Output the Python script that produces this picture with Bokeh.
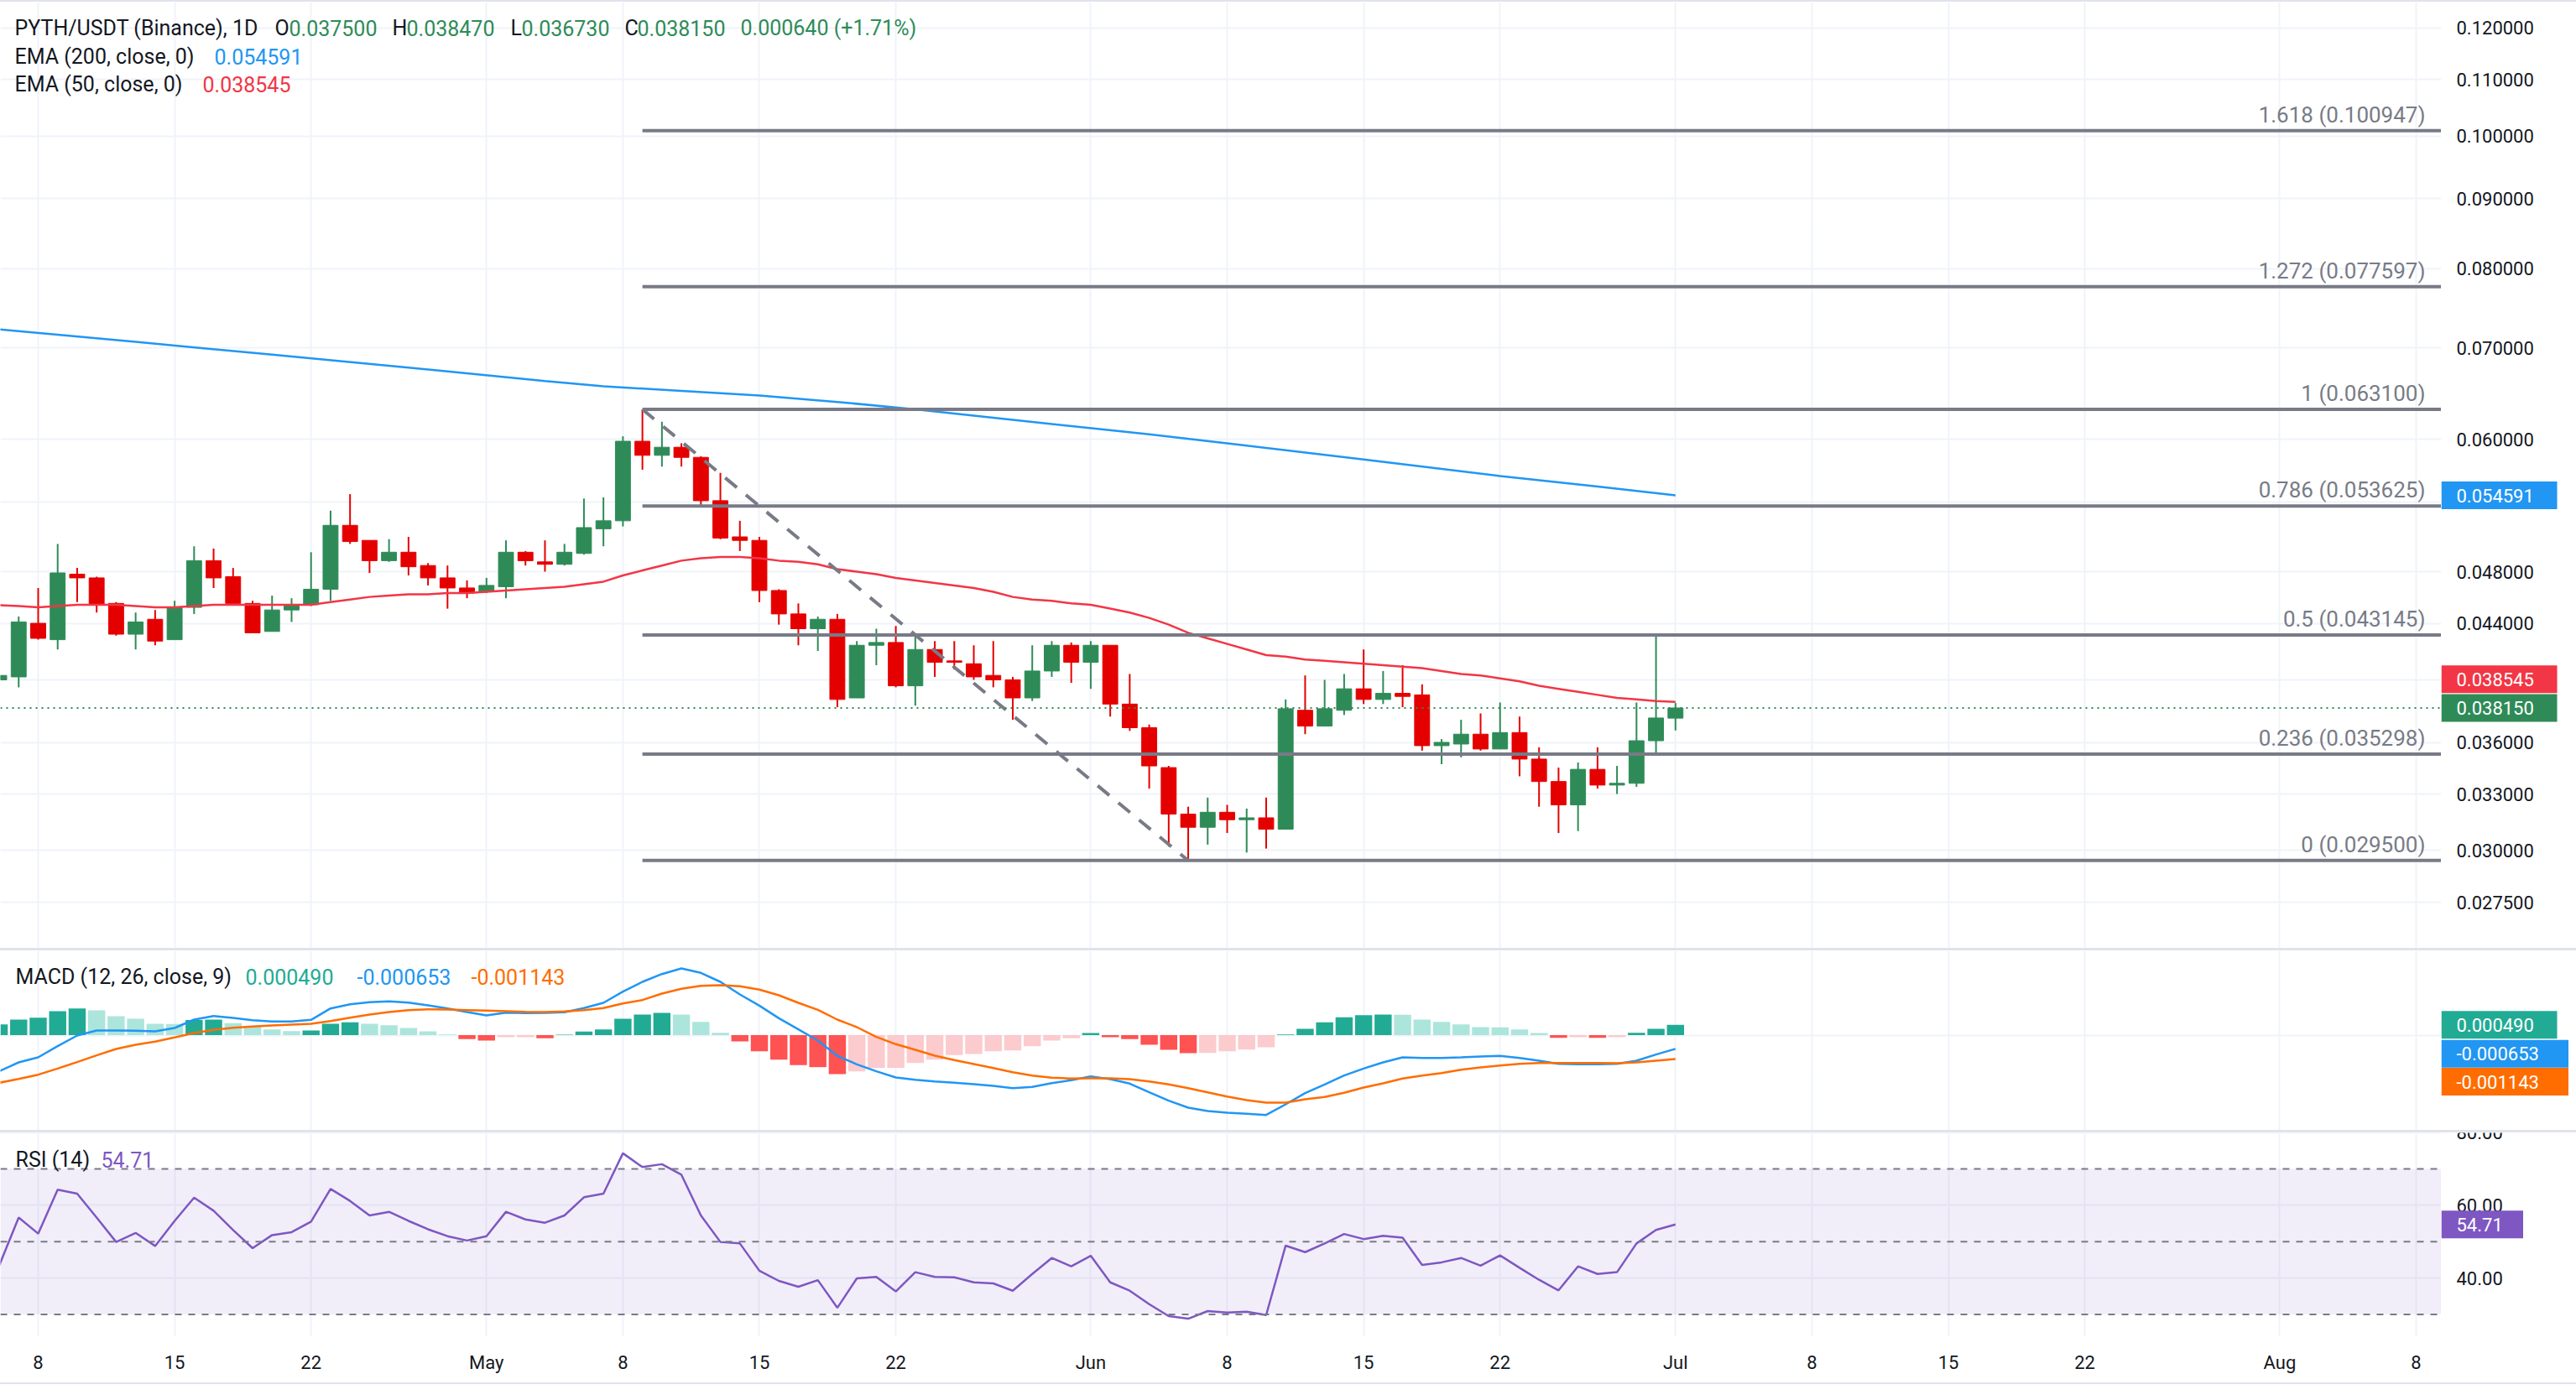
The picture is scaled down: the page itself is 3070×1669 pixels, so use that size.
import math
import pandas as pd
from bokeh.plotting import figure
from bokeh.models import Range1d, FixedTicker, Span, BoxAnnotation, Label, Div, Grid
from bokeh.layouts import column, row
from bokeh.embed import file_html
from bokeh.resources import INLINE
from bokeh.core.properties import value

# ---------------- data ----------------
start_date = "2025-04-06"
origin_date = "2025-04-08"

opens = [0.0400, 0.0402, 0.0440, 0.0428, 0.0478, 0.0475, 0.0455, 0.0432, 0.0443, 0.0428,
         0.0452, 0.0489, 0.0476, 0.0455, 0.0434, 0.0450, 0.0454, 0.0466, 0.0519, 0.0506,
         0.0489, 0.0496, 0.0485, 0.0475, 0.0467, 0.0464, 0.0468, 0.0496, 0.0488, 0.0486,
         0.0495, 0.0516, 0.0523, 0.0598, 0.0584, 0.0592, 0.0582, 0.0541, 0.0509, 0.0506,
         0.0465, 0.0447, 0.0436, 0.0443, 0.0388, 0.0424, 0.0426, 0.0396, 0.0421, 0.0413,
         0.0411, 0.0403, 0.0400, 0.0388, 0.0406, 0.0424, 0.0412, 0.0424, 0.0384, 0.0369,
         0.0345, 0.0319, 0.0312, 0.0320, 0.0316, 0.0317, 0.0311, 0.0380, 0.0370, 0.0380,
         0.0394, 0.0387, 0.0391, 0.0390, 0.0358, 0.0359, 0.0365, 0.0356, 0.0366, 0.0350,
         0.0337, 0.0324, 0.0344, 0.0335, 0.0336, 0.0361, 0.037500]
highs = [0.0404, 0.0445, 0.0467, 0.0503, 0.0483, 0.0476, 0.0456, 0.0448, 0.0450, 0.0457,
         0.0501, 0.0499, 0.0483, 0.0457, 0.0461, 0.0459, 0.0496, 0.0532, 0.0547, 0.0506,
         0.0507, 0.0509, 0.0487, 0.0485, 0.0473, 0.0475, 0.0506, 0.0497, 0.0506, 0.0503,
         0.0543, 0.0544, 0.0603, 0.0631, 0.0618, 0.0596, 0.0583, 0.0567, 0.0523, 0.0509,
         0.0466, 0.0455, 0.0445, 0.0447, 0.0427, 0.0436, 0.0438, 0.0432, 0.0427, 0.0427,
         0.0424, 0.0427, 0.0402, 0.0424, 0.0427, 0.0426, 0.0427, 0.0424, 0.0404, 0.0371,
         0.0346, 0.0323, 0.0328, 0.0324, 0.0322, 0.0328, 0.0387, 0.0403, 0.0400, 0.0404,
         0.0421, 0.0406, 0.0410, 0.0397, 0.0362, 0.0374, 0.0378, 0.0385, 0.0376, 0.0357,
         0.0345, 0.0348, 0.0357, 0.0346, 0.0385, 0.0431, 0.038470]
lows = [0.0399, 0.0395, 0.0428, 0.0421, 0.0456, 0.0448, 0.0431, 0.0421, 0.0424, 0.0428,
        0.0447, 0.0467, 0.0455, 0.0433, 0.0434, 0.0441, 0.0453, 0.0457, 0.0503, 0.0479,
        0.0488, 0.0477, 0.0469, 0.0451, 0.0459, 0.0463, 0.0459, 0.0485, 0.0480, 0.0485,
        0.0494, 0.0501, 0.0518, 0.0570, 0.0573, 0.0573, 0.0535, 0.0507, 0.0497, 0.0456,
        0.0439, 0.0424, 0.0420, 0.0382, 0.0388, 0.0410, 0.0395, 0.0383, 0.0402, 0.0407,
        0.0400, 0.0395, 0.0374, 0.0386, 0.0402, 0.0398, 0.0394, 0.0376, 0.0367, 0.0333,
        0.0302, 0.0295, 0.0303, 0.0309, 0.0299, 0.0301, 0.0311, 0.0365, 0.0370, 0.0377,
        0.0384, 0.0384, 0.0382, 0.0355, 0.0347, 0.0351, 0.0355, 0.0356, 0.0340, 0.0323,
        0.0309, 0.0310, 0.0333, 0.0330, 0.0334, 0.0352, 0.036730]
closes = [0.0403, 0.0441, 0.0429, 0.0479, 0.0475, 0.0454, 0.0432, 0.0441, 0.0427, 0.0452,
          0.0489, 0.0475, 0.0455, 0.0433, 0.0450, 0.0454, 0.0466, 0.0519, 0.0505, 0.0489,
          0.0496, 0.0484, 0.0475, 0.0467, 0.0463, 0.0469, 0.0496, 0.0489, 0.0486, 0.0496,
          0.0517, 0.0523, 0.0598, 0.0584, 0.0592, 0.0582, 0.0541, 0.0508, 0.0506, 0.0465,
          0.0447, 0.0436, 0.0443, 0.0387, 0.0424, 0.0426, 0.0396, 0.0421, 0.0412, 0.0412,
          0.0402, 0.0400, 0.0388, 0.0406, 0.0424, 0.0412, 0.0424, 0.0384, 0.0369, 0.0346,
          0.0319, 0.0312, 0.0320, 0.0316, 0.0317, 0.0311, 0.0381, 0.0370, 0.0381, 0.0394,
          0.0387, 0.0391, 0.0389, 0.0358, 0.0360, 0.0365, 0.0356, 0.0366, 0.0350, 0.0337,
          0.0324, 0.0344, 0.0335, 0.0336, 0.0361, 0.03751, 0.038150]

ema50 = [0.04536, 0.0453, 0.0452, 0.0453, 0.0454, 0.0454, 0.0454, 0.0453, 0.0452, 0.0452,
         0.0453, 0.0454, 0.0454, 0.0454, 0.0454, 0.0454, 0.0454, 0.0456, 0.0458, 0.0460,
         0.0461, 0.0462, 0.0462, 0.0463, 0.0463, 0.0464, 0.0465, 0.0466, 0.0467, 0.0468,
         0.0470, 0.0472, 0.0477, 0.0481, 0.0485, 0.0489, 0.0491, 0.0492, 0.0492, 0.0491,
         0.0489, 0.0488, 0.0486, 0.0482, 0.0480, 0.0478, 0.0475, 0.0473, 0.0471, 0.0469,
         0.0467, 0.0464, 0.0460, 0.0458, 0.0457, 0.0455, 0.0454, 0.0451, 0.0448, 0.0444,
         0.0439, 0.0433, 0.0429, 0.0425, 0.0421, 0.0417, 0.0416, 0.0414, 0.0413, 0.0412,
         0.0411, 0.0410, 0.0409, 0.0408, 0.0406, 0.0404, 0.0403, 0.0401, 0.0399, 0.0396,
         0.0394, 0.0392, 0.0390, 0.0388, 0.0387, 0.0386, 0.038545]

ema200_dates = ["2025-04-06", "2025-04-13", "2025-04-20", "2025-04-27", "2025-05-04", "2025-05-07",
                "2025-05-11", "2025-05-15", "2025-05-19", "2025-05-23", "2025-05-28", "2025-06-04",
                "2025-06-08", "2025-06-15", "2025-06-22", "2025-06-27", "2025-07-01"]
ema200_vals = [0.0722, 0.0707, 0.0692, 0.0677, 0.0662, 0.0656, 0.0651, 0.0646, 0.0639, 0.0631,
               0.0620, 0.0605, 0.0596, 0.0580, 0.0564, 0.0554, 0.054591]

macd_e3 = [-1.727, -1.30, -1.06, -0.527, -0.02, 0.22, 0.22, 0.207, 0.18, 0.34,
           0.74, 0.913, 0.82, 0.713, 0.647, 0.647, 0.727, 1.273, 1.473, 1.567,
           1.607, 1.553, 1.42, 1.273, 1.10, 0.94, 1.073, 1.047, 1.06, 1.087,
           1.287, 1.54, 2.073, 2.54, 2.913, 3.18, 2.967, 2.54, 1.94, 1.407,
           0.807, 0.273, -0.26, -0.993, -1.393, -1.727, -2.02, -2.127, -2.207, -2.273,
           -2.34, -2.42, -2.527, -2.473, -2.287, -2.153, -1.967, -2.10, -2.313, -2.727,
           -3.127, -3.46, -3.62, -3.70, -3.753, -3.807, -3.30, -2.767, -2.353, -1.927,
           -1.593, -1.30, -1.06, -1.087, -1.087, -1.06, -1.02, -0.993, -1.087, -1.22,
           -1.367, -1.393, -1.393, -1.367, -1.22, -0.927, -0.653]
signal_e3 = [-2.273, -2.087, -1.887, -1.593, -1.287, -0.967, -0.66, -0.46, -0.313, -0.113,
             0.10, 0.247, 0.353, 0.407, 0.46, 0.50, 0.54, 0.673, 0.833, 0.98,
             1.10, 1.193, 1.233, 1.22, 1.193, 1.167, 1.14, 1.113, 1.10, 1.127,
             1.193, 1.287, 1.513, 1.673, 1.98, 2.207, 2.353, 2.38, 2.327, 2.167,
             1.90, 1.54, 1.207, 0.74, 0.38, -0.087, -0.433, -0.70, -0.98, -1.193,
             -1.38, -1.567, -1.767, -1.927, -2.033, -2.073, -2.06, -2.06, -2.10, -2.207,
             -2.353, -2.527, -2.727, -2.927, -3.10, -3.22, -3.22, -3.06, -2.953, -2.753,
             -2.50, -2.30, -2.073, -1.927, -1.807, -1.647, -1.54, -1.447, -1.367, -1.327,
             -1.327, -1.327, -1.327, -1.34, -1.30, -1.22, -1.143]
hist_e3 = [0.513, 0.74, 0.833, 1.14, 1.273, 1.18, 0.90, 0.78, 0.54, 0.53,
           0.72, 0.74, 0.567, 0.407, 0.273, 0.193, 0.22, 0.54, 0.607, 0.54,
           0.473, 0.34, 0.18, 0.033, -0.193, -0.26, -0.10, -0.095, -0.153, 0.02,
           0.167, 0.273, 0.78, 0.98, 1.06, 0.98, 0.633, 0.113, -0.30, -0.767,
           -1.167, -1.433, -1.527, -1.86, -1.727, -1.567, -1.56, -1.327, -1.167, -0.953,
           -0.90, -0.767, -0.727, -0.527, -0.26, -0.153, 0.10, -0.10, -0.193, -0.46,
           -0.70, -0.86, -0.85, -0.767, -0.687, -0.58, 0.033, 0.30, 0.607, 0.847,
           0.953, 0.98, 0.97, 0.74, 0.633, 0.513, 0.38, 0.37, 0.273, 0.10,
           -0.127, -0.10, -0.127, -0.10, 0.113, 0.30, 0.49]
rsi = [43.4, 56.6, 52.2, 64.3, 63.2, 56.6, 49.9, 52.4, 48.8, 55.7,
       62.1, 58.5, 53.2, 48.2, 51.8, 52.6, 55.5, 64.5, 61.2, 57.2,
       58.2, 55.7, 53.4, 51.5, 50.3, 51.5, 58.2, 56.1, 55.2, 57.2,
       62.2, 63.2, 74.3, 70.5, 71.3, 68.4, 57.2, 49.9, 49.5, 42.0,
       39.2, 37.6, 39.4, 31.8, 39.9, 40.3, 36.3, 41.6, 40.3, 40.2,
       38.8, 38.5, 36.5, 41.1, 45.5, 43.2, 46.1, 38.8, 36.5, 32.8,
       29.5, 28.8, 30.9, 30.5, 30.7, 29.8, 48.9, 47.1, 49.5, 52.1,
       50.7, 51.6, 51.1, 43.6, 44.3, 45.5, 43.4, 46.2, 42.8, 39.5,
       36.6, 43.2, 41.1, 41.6, 49.5, 53.2, 54.71]

fib_ratios = [1.618, 1.272, 1, 0.786, 0.5, 0.236, 0]
fib_prices = [0.100947, 0.077597, 0.063100, 0.053625, 0.043145, 0.035298, 0.029500]
fib_start = "2025-05-09"
trend_dates = ["2025-05-09", "2025-06-06"]
trend_prices = [0.063100, 0.029500]

price_ticks = [0.0275, 0.030, 0.033, 0.036, 0.040, 0.044, 0.048, 0.054, 0.060,
               0.070, 0.080, 0.090, 0.100, 0.110, 0.120]
price_hidden = [0.040, 0.054]
rsi_ticks = [40, 60, 80]
rsi_levels = [30, 50, 70]
tick_dates = ["2025-04-08", "2025-04-15", "2025-04-22", "2025-05-01", "2025-05-08", "2025-05-15",
              "2025-05-22", "2025-06-01", "2025-06-08", "2025-06-15", "2025-06-22", "2025-07-01",
              "2025-07-08", "2025-07-15", "2025-07-22", "2025-08-01", "2025-08-08"]
tick_labels = ["8", "15", "22", "May", "8", "15", "22", "Jun", "8", "15", "22", "Jul",
               "8", "15", "22", "Aug", "8"]

# ---------------- helpers ----------------
ORIGIN = pd.Timestamp(origin_date)
def dx(d):
    return float((pd.Timestamp(d) - ORIGIN).days)

dates = pd.date_range(start_date, periods=len(closes), freq="D")
xs = [float((d - ORIGIN).days) for d in dates]
tick_x = [dx(d) for d in tick_dates]

GREEN = "#2E8B57"
RED = "#E50000"
GRAY = "#787B86"
TXT = "#131722"
FONT = "Roboto"
GRID = "#F0F3FA"
W = 3070
RB = 161
MW = W - RB

xr = Range1d(-1.937, 123.29)

def main_fig(h, yr, yticks, ytype="linear", bottom=0):
    p = figure(width=MW, height=h, x_range=xr, y_range=yr, y_axis_type=ytype,
               x_axis_location=("below" if bottom else None), y_axis_location=None,
               output_backend="svg", toolbar_location=None,
               min_border_left=0, min_border_right=0, min_border_top=0, min_border_bottom=bottom)
    p.outline_line_color = None
    p.background_fill_color = "white"
    p.border_fill_color = "white"
    if len(p.xgrid) == 0:
        p.add_layout(Grid(dimension=0, ticker=FixedTicker(ticks=tick_x)))
    if len(p.ygrid) == 0:
        p.add_layout(Grid(dimension=1, ticker=FixedTicker(ticks=yticks)))
    for g in p.xgrid:
        g.ticker = FixedTicker(ticks=tick_x)
    for g in p.ygrid:
        g.ticker = FixedTicker(ticks=yticks)
    for g in list(p.xgrid) + list(p.ygrid):
        g.grid_line_color = GRID
        g.grid_line_width = 2
    return p

def side_fig(h, yr, ytype="linear", bottom=0):
    s = figure(width=RB, height=h, x_range=Range1d(0, RB), y_range=yr, y_axis_type=ytype,
               x_axis_location=None, y_axis_location=None,
               output_backend="svg", toolbar_location=None,
               min_border_left=0, min_border_right=0, min_border_top=0, min_border_bottom=bottom)
    s.outline_line_color = None
    s.background_fill_color = "white"
    s.border_fill_color = "white"
    for g in list(s.xgrid) + list(s.ygrid):
        g.visible = False
    return s

def tick_text(s, ticks, labels):
    s.text(x=[18] * len(ticks), y=ticks, text=labels, text_align="left", text_baseline="middle",
           text_color=TXT, text_font=value(FONT), text_font_size="22px")

def badge(s, yv, text, color):
    w = 30 + 13.5 * len(text)
    s.rect(x=[w / 2], y=[yv], width=[w], height=[33], height_units="screen",
           fill_color=color, line_color=None)
    s.text(x=[18], y=[yv], text=[text], text_align="left", text_baseline="middle",
           text_color="white", text_font=value(FONT), text_font_size="22px")

def shift_log(yr, h, yv, px):
    return yv * math.exp(px * math.log(yr.end / yr.start) / h)

def shift_lin(yr, h, yv, px):
    return yv + px * (yr.end - yr.start) / h

def legend(p, fh, ycenter, parts):
    for txt, xpos, col in parts:
        p.add_layout(Label(x=xpos, y=fh - ycenter, x_units="screen", y_units="screen", text=txt,
                           text_align="left", text_baseline="middle", text_color=col,
                           text_font=FONT, text_font_size="25px"))

# ---------------- price pane ----------------
H1 = 1128
yr1 = Range1d(0.025443, 0.12536)
p1 = main_fig(H1, yr1, price_ticks, ytype="log")
s1 = side_fig(H1, yr1, ytype="log")

colors = [GREEN if c >= o else RED for o, c in zip(opens, closes)]
tops = [max(o, c) for o, c in zip(opens, closes)]
bots = [min(o, c) for o, c in zip(opens, closes)]
p1.segment(x0=xs, y0=lows, x1=xs, y1=highs, color=colors, line_width=2)
p1.vbar(x=xs, width=0.77, top=tops, bottom=bots, fill_color=colors, line_color=colors, line_width=1)

p1.line([dx(d) for d in ema200_dates], ema200_vals, color="#2196F3", line_width=2.5)
p1.line(xs, ema50, color="#F23645", line_width=2.5)

fx0 = dx(fib_start)
p1.segment(x0=[fx0] * len(fib_prices), y0=fib_prices, x1=[xr.end] * len(fib_prices), y1=fib_prices,
           color=GRAY, line_width=4)
fib_text = [f"{r:g} ({v:.6f})" for r, v in zip(fib_ratios, fib_prices)]
p1.text(x=[xr.end] * len(fib_prices), y=fib_prices, text=fib_text, x_offset=-19, y_offset=-19,
        text_align="right", text_baseline="middle", text_color=GRAY,
        text_font=value(FONT), text_font_size="26px")
p1.line([dx(d) for d in trend_dates], trend_prices, color=GRAY, line_width=4, line_dash="18 14")

p1.add_layout(Span(location=closes[-1], dimension="width", line_color=GREEN,
                   line_dash="2 5", line_width=2))

shown = [t for t in price_ticks if t not in price_hidden]
tick_text(s1, shown, [f"{t:.6f}" for t in shown])
badge(s1, ema200_vals[-1], f"{ema200_vals[-1]:.6f}", "#2196F3")
badge(s1, shift_log(yr1, H1, ema50[-1], 27), f"{ema50[-1]:.6f}", "#F23645")
badge(s1, closes[-1], f"{closes[-1]:.6f}", GREEN)

chg = closes[-1] - closes[-2]
pct = chg / closes[-2] * 100
legend(p1, H1, 31, [
    ("PYTH/USDT (Binance), 1D", 17, TXT),
    ("O", 327, TXT), (f"{opens[-1]:.6f}", 344, GREEN),
    ("H", 467, TXT), (f"{highs[-1]:.6f}", 484, GREEN),
    ("L", 608, TXT), (f"{lows[-1]:.6f}", 621, GREEN),
    ("C", 744, TXT), (f"{closes[-1]:.6f}", 759, GREEN),
    (f"{chg:.6f} ({pct:+.2f}%)", 882, GREEN),
])
legend(p1, H1, 65, [("EMA (200, close, 0)", 17, TXT), (f"{ema200_vals[-1]:.6f}", 255, "#2196F3")])
legend(p1, H1, 98, [("EMA (50, close, 0)", 17, TXT), (f"{ema50[-1]:.6f}", 241, "#F23645")])

# ---------------- MACD pane ----------------
H2 = 214
yr2 = Range1d(-0.00454, 0.00402)
p2 = main_fig(H2, yr2, [0])
s2 = side_fig(H2, yr2)

hcols = []
prev = None
for h in hist_e3:
    if h >= 0:
        hcols.append("#22AB94" if (prev is None or h > prev) else "#ACE5DC")
    else:
        hcols.append("#FF5252" if (prev is None or h < prev) else "#FCCBCD")
    prev = h
hv = [h * 1e-3 for h in hist_e3]
p2.vbar(x=xs, width=0.88, top=[max(v, 0) for v in hv], bottom=[min(v, 0) for v in hv],
        fill_color=hcols, line_color=None)
p2.line(xs, [v * 1e-3 for v in macd_e3], color="#2196F3", line_width=2.5)
p2.line(xs, [v * 1e-3 for v in signal_e3], color="#FF6D00", line_width=2.5)

badge(s2, hist_e3[-1] * 1e-3, f"{hist_e3[-1] * 1e-3:.6f}", "#22AB94")
badge(s2, shift_lin(yr2, H2, macd_e3[-1] * 1e-3, -6), f"{macd_e3[-1] * 1e-3:.6f}", "#2196F3")
badge(s2, shift_lin(yr2, H2, signal_e3[-1] * 1e-3, -27), f"{signal_e3[-1] * 1e-3:.6f}", "#FF6D00")
legend(p2, H2, 31, [
    ("MACD (12, 26, close, 9)", 18, TXT),
    (f"{hist_e3[-1] * 1e-3:.6f}", 292, "#22AB94"),
    (f"{macd_e3[-1] * 1e-3:.6f}", 425, "#2196F3"),
    (f"{signal_e3[-1] * 1e-3:.6f}", 561, "#FF6D00"),
])

# ---------------- RSI pane ----------------
H3F = 243
B3 = 55
yr3 = Range1d(23.86, 79.92)
p3 = main_fig(H3F + B3, yr3, rsi_ticks, bottom=B3)
s3 = side_fig(H3F + B3, yr3, bottom=B3)
band = BoxAnnotation(bottom=rsi_levels[0], top=rsi_levels[-1], fill_color="#7E57C2",
                     fill_alpha=0.1, line_color=None, level="underlay")
p3.add_layout(band)
for lv in rsi_levels:
    p3.add_layout(Span(location=lv, dimension="width", line_color=GRAY, line_dash="8 8", line_width=2))
p3.line(xs, rsi, color="#7E57C2", line_width=2.5)
tick_text(s3, rsi_ticks, [f"{t:.2f}" for t in rsi_ticks])
badge(s3, rsi[-1], f"{rsi[-1]:.2f}", "#7E57C2")
legend(p3, H3F, 32, [("RSI (14)", 18, TXT), (f"{rsi[-1]:.2f}", 120, "#7E57C2")])

xa = p3.xaxis[0]
xa.ticker = FixedTicker(ticks=tick_x)
xa.major_label_overrides = {t: l for t, l in zip(tick_x, tick_labels)}
xa.axis_line_color = None
xa.major_tick_line_color = None
xa.minor_tick_line_color = None
xa.major_tick_out = 0
xa.major_tick_in = 0
xa.major_label_standoff = 18
xa.major_label_text_font = FONT
xa.major_label_text_font_size = "22px"
xa.major_label_text_color = TXT

def sep(h, color="#E0E3EB"):
    return Div(text="", width=W, height=h, margin=0, styles={"background-color": color})

layout = column(sep(2), row(p1, s1, spacing=0), sep(3), row(p2, s2, spacing=0), sep(3),
                row(p3, s3, spacing=0), sep(2), spacing=0)

open("out.html", "w").write(file_html(layout, INLINE))
